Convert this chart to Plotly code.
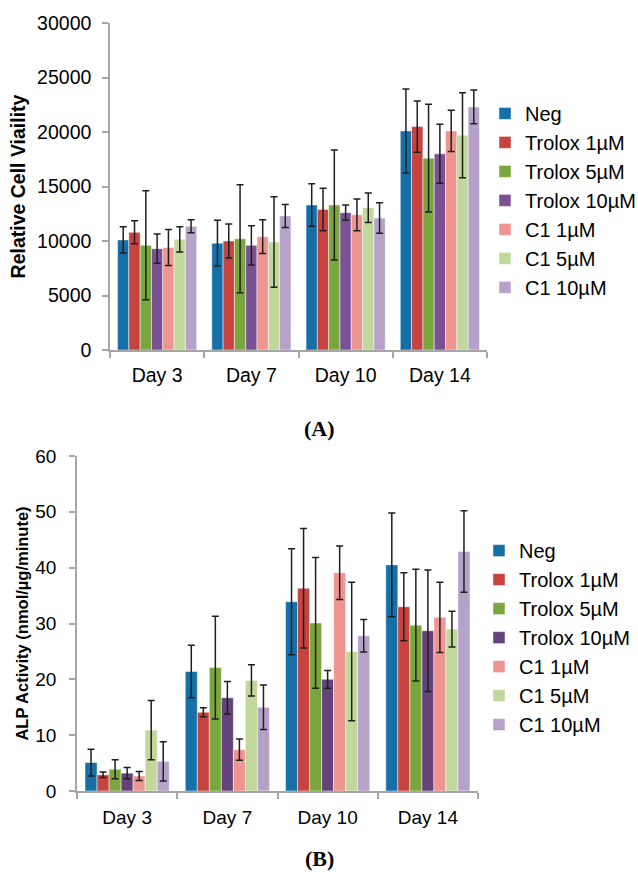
import plotly.graph_objects as go

days = ["Day 3", "Day 7", "Day 10", "Day 14"]
series_names = ["Neg", "Trolox 1µM", "Trolox 5µM", "Trolox 10µM", "C1 1µM", "C1 5µM", "C1 10µM"]

# Panel A: Relative Cell Viability
a_neg = [10100, 9800, 13300, 20100]
a_neg_err = [1200, 2100, 1950, 3850]
a_t1 = [10800, 10000, 12900, 20500]
a_t1_err = [1050, 1550, 1950, 2350]
a_t5 = [9600, 10200, 13300, 17600]
a_t5_err = [5000, 4950, 5050, 4950]
a_t10 = [9300, 9600, 12600, 18000]
a_t10_err = [1350, 1800, 700, 2700]
a_c1 = [9400, 10400, 12400, 20100]
a_c1_err = [1650, 1550, 1450, 1900]
a_c5 = [10150, 9900, 13050, 19700]
a_c5_err = [1150, 4150, 1350, 3900]
a_c10 = [11350, 12300, 12100, 22300]
a_c10_err = [600, 1050, 1400, 1550]

# Panel B: ALP Activity
b_neg = [5.1, 21.4, 33.9, 40.5]
b_neg_err = [2.4, 4.7, 9.5, 9.3]
b_t1 = [2.9, 14.1, 36.3, 33.0]
b_t1_err = [0.5, 0.8, 10.7, 6.1]
b_t5 = [3.9, 22.1, 30.1, 29.7]
b_t5_err = [1.7, 9.2, 11.7, 10.0]
b_t10 = [3.2, 16.7, 20.0, 28.7]
b_t10_err = [1.0, 2.9, 1.6, 10.9]
b_c1 = [2.7, 7.4, 39.1, 31.1]
b_c1_err = [0.8, 1.9, 4.8, 6.3]
b_c5 = [10.9, 19.8, 25.0, 29.0]
b_c5_err = [5.3, 2.8, 12.4, 3.2]
b_c10 = [5.3, 15.0, 27.8, 42.9]
b_c10_err = [3.5, 4.0, 2.9, 7.3]

colors_a = ["#176FA8", "#C6433F", "#7AA63F", "#7A5294", "#EE9592", "#C1D79C", "#B6A2C9"]
colors_b = ["#176FA8", "#C6433F", "#7AA63F", "#64437A", "#EE9592", "#C1D79C", "#B6A2C9"]

a_vals = [a_neg, a_t1, a_t5, a_t10, a_c1, a_c5, a_c10]
a_errs = [a_neg_err, a_t1_err, a_t5_err, a_t10_err, a_c1_err, a_c5_err, a_c10_err]
b_vals = [b_neg, b_t1, b_t5, b_t10, b_c1, b_c5, b_c10]
b_errs = [b_neg_err, b_t1_err, b_t5_err, b_t10_err, b_c1_err, b_c5_err, b_c10_err]

FONT = "Liberation Sans, Arial, sans-serif"
AXC = "#A6A6A6"

fig = go.Figure()
for name, v, e, c in zip(series_names, a_vals, a_errs, colors_a):
    fig.add_trace(go.Bar(
        x=days, y=v, name=name, marker=dict(color=c, line=dict(color="rgba(255,255,255,0.6)", width=0.8)),
        error_y=dict(type="data", array=e, visible=True, color="#1F1F1F", thickness=1.5, width=3.5),
        xaxis="x", yaxis="y", legend="legend"))
for name, v, e, c in zip(series_names, b_vals, b_errs, colors_b):
    fig.add_trace(go.Bar(
        x=days, y=v, name=name, marker=dict(color=c, line=dict(color="rgba(255,255,255,0.6)", width=0.8)),
        error_y=dict(type="data", array=e, visible=True, color="#1F1F1F", thickness=1.5, width=3.5),
        xaxis="x2", yaxis="y2", legend="legend2"))

W, H = 638, 872
def px_x(p):
    return p / W
def px_y(p):
    return 1 - p / H

xcommon = dict(showline=True, linecolor=AXC, linewidth=1.5, ticks="outside", tickcolor=AXC,
               ticklen=6, tickwidth=1.5, tickson="boundaries", showgrid=False, zeroline=False)
ycommon = dict(showline=True, linecolor=AXC, linewidth=1.5, ticks="outside", tickcolor=AXC,
               ticklen=6, tickwidth=1.5, showgrid=False, zeroline=False)

fig.update_layout(
    width=W, height=H, margin=dict(l=0, r=0, t=0, b=0, autoexpand=False),
    paper_bgcolor="white", plot_bgcolor="white",
    font=dict(family=FONT, color="black"),
    barmode="group", bargap=0.16, bargroupgap=0,
    xaxis=dict(domain=[px_x(110), px_x(487)], anchor="y", tickfont=dict(size=19.5),
               ticklabelstandoff=7, **xcommon),
    yaxis=dict(domain=[px_y(350), px_y(23)], anchor="x", range=[0, 30000], dtick=5000, tickformat="d",
               tickfont=dict(size=19.5), ticklabelstandoff=7,
               title=dict(text="<b>Relative Cell Viaility</b>", font=dict(size=19.5), standoff=6), **ycommon),
    xaxis2=dict(domain=[px_x(77), px_x(478)], anchor="y2", tickfont=dict(size=19),
                ticklabelstandoff=8, **xcommon),
    yaxis2=dict(domain=[px_y(791), px_y(456)], anchor="x2", range=[0, 60], dtick=10,
                tickfont=dict(size=19), ticklabelstandoff=9,
                title=dict(text="<b>ALP Activity (nmol/µg/minute)</b>", font=dict(size=16.5), standoff=3), **ycommon),
    legend=dict(x=px_x(485), xanchor="left", y=px_y(200.4), yanchor="middle", font=dict(size=20),
                bgcolor="rgba(0,0,0,0)", itemclick=False),
    legend2=dict(x=px_x(479), xanchor="left", y=px_y(637.6), yanchor="middle", font=dict(size=20),
                 bgcolor="rgba(0,0,0,0)", itemclick=False),
    annotations=[
        dict(text="<b>(A)</b>", x=px_x(320), y=px_y(428), xref="paper", yref="paper", showarrow=False,
             font=dict(family="Liberation Serif, Times New Roman, serif", size=22), xanchor="center", yanchor="middle"),
        dict(text="<b>(B)</b>", x=px_x(320), y=px_y(858), xref="paper", yref="paper", showarrow=False,
             font=dict(family="Liberation Serif, Times New Roman, serif", size=22), xanchor="center", yanchor="middle"),
    ],
)

fig.write_html("out.html")
